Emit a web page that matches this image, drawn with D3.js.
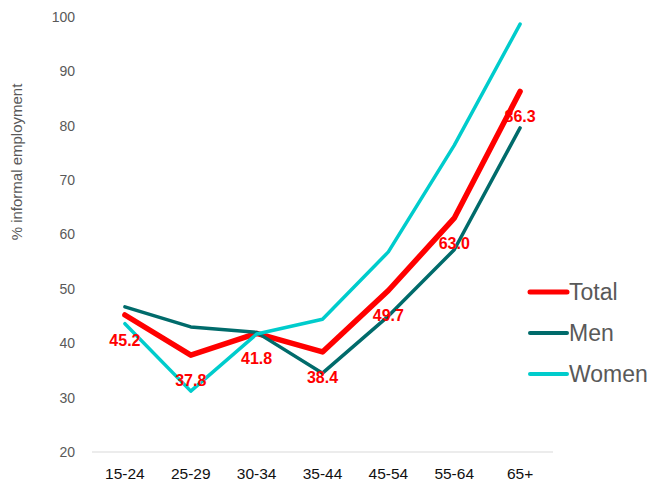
<!DOCTYPE html>
<html><head><meta charset="utf-8">
<script src="https://cdn.jsdelivr.net/npm/d3@7"></script>
<style>body{margin:0;background:#fff}svg{display:block}</style>
</head><body>
<script>
const categories = ["15-24","25-29","30-34","35-44","45-54","55-64","65+"];
const total = [45.2, 37.8, 41.8, 38.4, 49.7, 63.0, 86.3];
const men   = [46.7, 43.0, 42.0, 34.5, 45.0, 57.2, 79.6];
const women = [43.6, 31.2, 41.7, 44.4, 56.8, 76.4, 98.7];
const yTicks = [20,30,40,50,60,70,80,90,100];
const seriesNames = ["Total","Men","Women"];
const seriesColors = ["#ff0000","#006b6b","#00cccc"];
const seriesWidths = [5.5, 3.5, 3.5];
const seriesValues = [total, men, women];

const W = 654, H = 483;
const svg = d3.select("body").append("svg").attr("width", W).attr("height", H);
const x = d3.scaleBand().domain(categories).range([92, 553]);
const y = d3.scaleLinear().domain([20, 100]).range([452, 17]);

// y tick labels
svg.append("g").selectAll("text").data(yTicks).join("text")
  .attr("x", 75).attr("y", d => y(d)).attr("dy", "0.35em")
  .attr("text-anchor", "end")
  .attr("font-family", "Liberation Sans, Arial, sans-serif")
  .attr("font-size", 14).attr("fill", "#595959").text(d => d);

// y title
svg.append("text").attr("transform", "translate(22,162) rotate(-90)")
  .attr("text-anchor", "middle")
  .attr("font-family", "Liberation Sans, Arial, sans-serif")
  .attr("font-size", 15).attr("fill", "#595959").text("% informal employment");

// x axis line
svg.append("line").attr("x1", 92).attr("x2", 553).attr("y1", y(20)).attr("y2", y(20))
  .attr("stroke", "#d9d9d9").attr("stroke-width", 1.2);

// x labels
svg.append("g").selectAll("text").data(categories).join("text")
  .attr("x", d => x(d) + x.bandwidth()/2).attr("y", 474).attr("dy", "0.35em")
  .attr("text-anchor", "middle")
  .attr("font-family", "Liberation Sans, Arial, sans-serif")
  .attr("font-size", 15.5).attr("fill", "#111").text(d => d);

const line = d3.line().x((d,i) => x(categories[i]) + x.bandwidth()/2).y(d => y(d));
seriesValues.forEach((vals, k) => {
  svg.append("path").attr("d", line(vals)).attr("fill", "none")
    .attr("stroke", seriesColors[k]).attr("stroke-width", seriesWidths[k])
    .attr("stroke-linejoin", "round").attr("stroke-linecap", "round");
});

// data labels for total
svg.append("g").selectAll("text").data(total).join("text")
  .attr("x", (d,i) => x(categories[i]) + x.bandwidth()/2)
  .attr("y", d => y(d) + 25).attr("dy", "0.35em")
  .attr("text-anchor", "middle")
  .attr("font-family", "Liberation Sans, Arial, sans-serif")
  .attr("font-weight", "bold").attr("font-size", 16).attr("fill", "#ff0000")
  .text(d => d.toFixed(1));

// legend
const legY = [292, 333, 374];
seriesNames.forEach((n, k) => {
  svg.append("line").attr("x1", 530).attr("x2", 567).attr("y1", legY[k]).attr("y2", legY[k])
    .attr("stroke", seriesColors[k]).attr("stroke-width", k === 0 ? 5 : 4)
    .attr("stroke-linecap", "round");
  svg.append("text").attr("x", 569).attr("y", legY[k]).attr("dy", "0.35em")
    .attr("font-family", "Liberation Sans, Arial, sans-serif")
    .attr("font-size", 23).attr("fill", "#595959").text(n);
});
</script>
</body></html>
